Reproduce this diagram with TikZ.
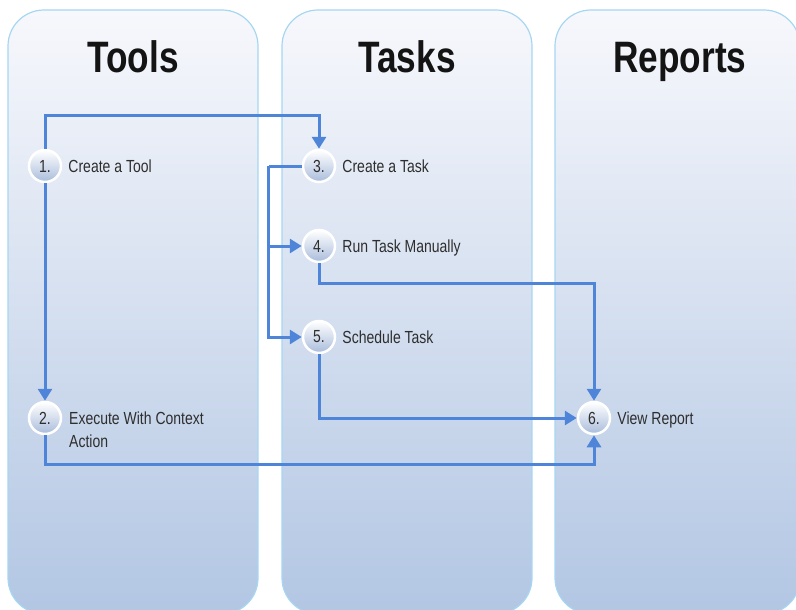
\documentclass[tikz,border=0pt]{standalone}
\usepackage{fontspec}
\setmainfont{Liberation Sans}[FakeStretch=0.8]
\usetikzlibrary{calc,positioning,arrows.meta}

\definecolor{flowblue}{HTML}{4F85D8}
\definecolor{laneedge}{HTML}{A6D7F2}
\definecolor{lanetop}{HTML}{F7F8FC}
\definecolor{lanebot}{HTML}{B2C6E3}
\definecolor{circbot}{HTML}{A9BCDB}
\definecolor{txtgray}{HTML}{2E2E2E}

\tikzset{
  lane/.style={draw=laneedge, line width=1.2pt, rounded corners=36pt, top color=lanetop, bottom color=lanebot},
  lanetitle/.style={font=\fontsize{44}{48}\selectfont\bfseries, text=black!92, anchor=base},
  numcirc/.style={circle, minimum size=32pt, inner sep=0pt, draw=white, line width=2.5pt, top color=white, bottom color=circbot, font=\fontsize{17.5}{19}\selectfont, text=txtgray},
  lbl/.style={font=\fontsize{17.5}{23}\selectfont, text=txtgray, inner sep=0pt, text depth=0pt},
  flow/.style={draw=flowblue, line width=3pt, -{Triangle[length=12pt,width=14pt]}},
  flowline/.style={draw=flowblue, line width=3pt}
}

\begin{document}
\begin{tikzpicture}[x=1pt, y=-1pt]
			%%%%% START %%%%%
			\useasboundingbox (0, 0) rectangle (796, 610);
			
			% swim lanes
			\draw[lane] (8, 10) rectangle (258, 614);
			\draw[lane] (282, 10) rectangle (532, 614);
			\draw[lane] (555, 10) rectangle (800, 614);
			
			\node[lanetitle] (toolsT) at (133, 73) {Tools};
			\node[lanetitle] (tasksT) at (407, 73) {Tasks};
			\node[lanetitle] (reportsT) at (680, 73) {Reports};
			
			% steps
			\node[numcirc] (s1) at (45, 166) {1.};
			\node[numcirc] (s2) at (45, 418) {2.};
			\node[numcirc] (s3) at (319, 166) {3.};
			\node[numcirc] (s4) at (319, 246) {4.};
			\node[numcirc] (s5) at (319, 337) {5.};
			\node[numcirc] (s6) at (594, 418) {6.};
			
			\node[lbl, right=6pt of s1] (t1) {Create a Tool};
			\node[lbl, align=left, anchor=north west] (t2) at ($(s2.center)+(24, -6)$) {Execute With Context\\Action};
			\node[lbl, right=6pt of s3] (t3) {Create a Task};
			\node[lbl, right=6pt of s4] (t4) {Run Task Manually};
			\node[lbl, right=6pt of s5] (t5) {Schedule Task};
			\node[lbl, right=6pt of s6] (t6) {View Report};
			
			% connectors
			\draw[flow] (s1.north) -- ++(0, -33) -| (s3.north);
			\draw[flow] (s1.south) -- (s2.north);
			
			\coordinate (split) at ($(s3.west)+(-33, 0)$);
			\draw[flowline] (s3.west) -- (split);
			\draw[flow] (split) |- (s4.west);
			\draw[flow] (split) |- (s5.west);
			
			\draw[flow] (s4.south) -- ++(0, 20) -| (s6.north);
			\draw[flow] (s5.south) |- (s6.west);
			\draw[flow] (s2.south) -- ++(0, 29) -| (s6.south);
			
			%%%%% END %%%%%
		\end{tikzpicture}
\end{document}
